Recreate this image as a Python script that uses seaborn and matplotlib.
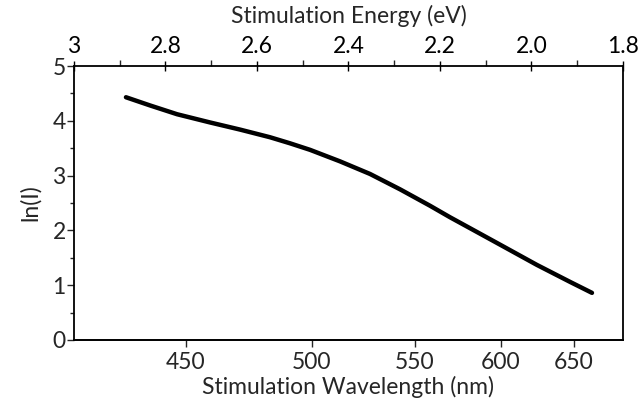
import matplotlib
matplotlib.use("Agg")
import matplotlib.pyplot as plt
import seaborn as sns
import pandas as pd
from matplotlib.ticker import MultipleLocator

# values
wavelength_nm = [429.6, 437.6, 446.9, 458.8, 470.2, 482.2, 490.5, 499.2, 512.7,
                 527.0, 542.1, 558.1, 569.3, 587.0, 601.3, 623.7, 647.3, 663.9]
ln_intensity = [4.43, 4.28, 4.12, 3.97, 3.84, 3.70, 3.59, 3.47, 3.26,
                3.03, 2.75, 2.45, 2.24, 1.94, 1.71, 1.37, 1.06, 0.86]

energy_ticks = [3, 2.8, 2.6, 2.4, 2.2, 2.0, 1.8]
energy_labels = ["3", "2.8", "2.6", "2.4", "2.2", "2.0", "1.8"]
wl_ticks = [450, 500, 550, 600, 650]

HC = 1240.0  # eV*nm

df = pd.DataFrame({"wl": wavelength_nm, "lnI": ln_intensity})
df["energy"] = HC / df["wl"]

sns.set_style("white")
plt.rcParams["font.family"] = ["Lato", "DejaVu Sans"]
FS = 16.5

fig = plt.figure(figsize=(6.4, 4.17), dpi=100)
ax = fig.add_axes([0.1156, 0.1847, 0.8578, 0.657])

sns.lineplot(data=df, x="energy", y="lnI", color="black", linewidth=3.2, ax=ax)

# energy axis on top (linear)
ax.set_xlim(3, 1.8)
ax.set_ylim(0, 5)
ax.xaxis.tick_top()
ax.xaxis.set_label_position("top")
ax.set_xticks(energy_ticks)
ax.set_xticklabels(energy_labels)
ax.xaxis.set_minor_locator(MultipleLocator(0.1))
ax.set_xlabel("Stimulation Energy (eV)", fontsize=FS, labelpad=9)
ax.set_ylabel("ln(I)", fontsize=FS, labelpad=8)
ax.set_yticks([0, 1, 2, 3, 4, 5])
ax.yaxis.set_minor_locator(MultipleLocator(0.5))

ax.tick_params(axis="x", which="major", direction="inout", length=7, width=1,
               labelsize=FS, pad=3, colors="black")
ax.tick_params(axis="x", which="minor", direction="out", length=4, width=1,
               top=True, bottom=False)
ax.tick_params(axis="y", which="major", direction="out", length=5, width=1,
               labelsize=FS, pad=1, left=True)
ax.tick_params(axis="y", which="minor", direction="out", length=3, width=1, left=True)

for s in ax.spines.values():
    s.set_color("black")
    s.set_linewidth(1.3)

# wavelength axis on bottom via conversion
sec = ax.secondary_xaxis("bottom", functions=(lambda e: HC / e, lambda w: HC / w))
sec.set_xticks(wl_ticks)
sec.set_xticklabels([str(t) for t in wl_ticks])
sec.tick_params(axis="x", direction="out", length=5, width=1, labelsize=FS, pad=4)
sec.spines["bottom"].set_linewidth(1.3)
sec.set_xlabel("Stimulation Wavelength (nm)", fontsize=FS, labelpad=2)

fig.savefig("out.png", dpi=100)
